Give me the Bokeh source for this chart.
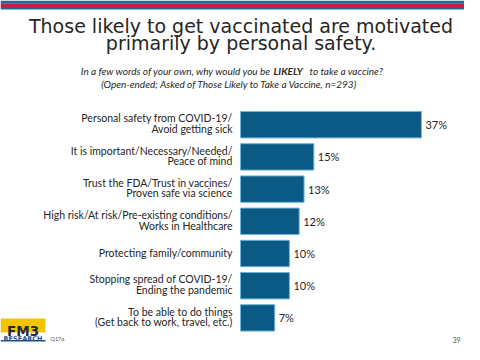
from bokeh.plotting import figure
from bokeh.models import Range1d, ColumnDataSource
from bokeh.embed import file_html
from bokeh.resources import INLINE
from bokeh.core.properties import value

# ---------------- data ----------------
categories = [
    "Personal safety from COVID-19/\nAvoid getting sick",
    "It is important/Necessary/Needed/\nPeace of mind",
    "Trust the FDA/Trust in vaccines/\nProven safe via science",
    "High risk/At risk/Pre-existing conditions/\nWorks in Healthcare",
    "Protecting family/community",
    "Stopping spread of COVID-19/\nEnding the pandemic",
    "To be able to do things\n(Get back to work, travel, etc.)",
]
values = [37, 15, 13, 12, 10, 10, 7]
value_labels = [f"{v}%" for v in values]

title_lines = ["Those likely to get vaccinated are motivated",
               "primarily by personal safety."]
subtitle_a = "In a few words of your own, why would you be"
subtitle_b = "LIKELY"
subtitle_c = "to take a vaccine?"
subtitle_2 = "(Open-ended; Asked of Those Likely to Take a Vaccine, n=293)"
logo_top = "FM3"
logo_bottom = "RESEARCH"
footnote = "Q17a."
page_number = "39"

# ---------------- layout ----------------
W, H = 464, 344
BAR = "#0b5a85"
TXT = "#262626"

p = figure(width=W, height=H, x_range=Range1d(0, W), y_range=Range1d(H, 0),
           output_backend="svg", toolbar_location=None, min_border=0,
           x_axis_location=None, y_axis_location=None,
           outline_line_color=None, background_fill_color="white",
           border_fill_color="white")
p.xgrid.visible = False
p.ygrid.visible = False

# scales for the bars: percent -> pixels, row index -> pixels
px_per_pct = 4.89
zero_x = 240.0
p.extra_x_ranges = {"pct": Range1d(-zero_x / px_per_pct, (W - zero_x) / px_per_pct)}
row0, step = 124.2, 32.2
p.extra_y_ranges = {"rows": Range1d((H - row0) / step, -row0 / step)}

src = ColumnDataSource(dict(row=list(range(len(categories))), val=values,
                            cat=categories, lab=value_labels))

# header stripe
p.quad(left=0, right=W, top=0, bottom=3.3, fill_color="#1b6c95", line_color=None)
p.quad(left=0, right=W, top=3.3, bottom=6.5, fill_color="#c0213a", line_color=None)
p.quad(left=0, right=W, top=6.5, bottom=9, fill_color="#1b6c95", line_color=None)

# title
for line, yb in zip(title_lines, [25, 42]):
    p.text(x=[240.5], y=[yb], text=[line], text_align="center",
           text_baseline="alphabetic", text_font=value("DejaVu Sans"),
           text_font_size="19px", text_color=TXT)

# subtitle
sub_kw = dict(text_baseline="alphabetic", text_font=value("Lato"),
              text_font_size="10px", text_color=TXT)
p.text(x=[271], y=[70], text=[subtitle_a], text_align="right",
       text_font_style="italic", **sub_kw)
p.text(x=[273], y=[70], text=[subtitle_b], text_align="left",
       text_font_style="bold italic", **sub_kw)
p.text(x=[309], y=[70], text=[subtitle_c], text_align="left",
       text_font_style="italic", **sub_kw)
p.text(x=[229], y=[83.5], text=[subtitle_2], text_align="center",
       text_font_style="italic", **sub_kw)

# bars
p.hbar(y="row", left=0, right="val", height=0.82, source=src,
       x_range_name="pct", y_range_name="rows",
       fill_color=BAR, line_color="#6cb6d9", line_width=1)

# category labels
p.text(x=0, y="row", text="cat", source=src, x_range_name="pct",
       y_range_name="rows", x_offset=-8, y_offset=-1, text_align="right",
       text_baseline="middle", text_font=value("Lato"),
       text_font_size="10.5px", text_line_height=0.9, text_color=TXT)

# value labels
p.text(x="val", y="row", text="lab", source=src, x_range_name="pct",
       y_range_name="rows", x_offset=4, text_align="left",
       text_baseline="middle", text_font=value("Lato"),
       text_font_size="11px", text_color=TXT)

# footer logo
p.quad(left=0, right=45, top=318, bottom=332, fill_color="#f5c400", line_color=None)
p.text(x=[22.5], y=[330.5], text=[logo_top], text_align="center",
       text_baseline="alphabetic", text_font=value("DejaVu Sans"),
       text_font_style="bold", text_font_size="13.5px", text_color="#1c2a48")
p.text(x=[22.5], y=[338.5], text=[logo_bottom], text_align="center",
       text_baseline="alphabetic", text_font=value("DejaVu Sans"),
       text_font_style="bold", text_font_size="6.5px", text_color="#1f4e8c")
p.quad(left=0, right=45, top=339.5, bottom=341, fill_color="#1f4e8c", line_color=None)
p.text(x=[50], y=[338.5], text=[footnote], text_align="left",
       text_baseline="alphabetic", text_font=value("Lato"),
       text_font_size="5.5px", text_color="#555555")
p.text(x=[460], y=[339], text=[page_number], text_align="right",
       text_baseline="alphabetic", text_font=value("Lato"),
       text_font_size="7px", text_color="#555555")

open("out.html", "w").write(file_html(p, INLINE))
